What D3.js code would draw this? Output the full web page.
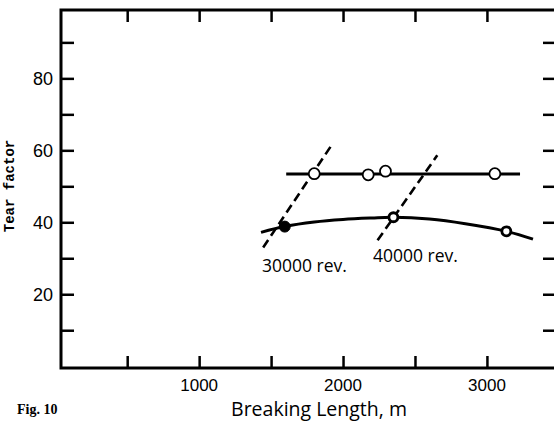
<!DOCTYPE html>
<html><head><meta charset="utf-8">
<script src="https://cdn.jsdelivr.net/npm/d3@7"></script>
<style>
html,body{margin:0;padding:0;background:#fff;}
svg{display:block;}
</style>
</head><body>
<svg id="chart" width="554" height="421"></svg>
<script>
// ---- data ----
const xTicksMajor = [1000, 2000, 3000];
const xTicksAll = [500, 1000, 1500, 2000, 2500, 3000];
const yTicksMajor = [20, 40, 60, 80];
const yTicksAll = [10, 20, 30, 40, 50, 60, 70, 80, 90];

// upper series (open circles) and its horizontal fit line
const openX = [1800, 2175, 2295, 3055];
const openY = [53.5, 53.2, 54.2, 53.5];
const upperLineX = [1605, 3230];
const upperLineY = [53.4, 53.4];

// lower series (filled / ringed markers) and its fitted curve
const lowerX = [1595, 2350, 3135];
const lowerY = [38.8, 41.4, 37.5];
const lowerMarker = ["filled", "ring", "ring"];
const curveX = [1430, 1600, 1800, 2000, 2200, 2350, 2600, 2850, 3135, 3320];
const curveY = [37.2, 38.9, 40.1, 40.8, 41.2, 41.4, 40.9, 39.6, 37.5, 35.3];

// iso-revolution dashed lines
const revLabels = ["30000 rev.", "40000 rev."];
const revX = [[1445, 1915], [2240, 2655]];
const revY = [[33.0, 61.1], [35.0, 58.6]];

// ---- drawing ----
const svg = d3.select("#chart");
const x = d3.scaleLinear().domain([40, 3480]).range([61, 556]);
const y = d3.scaleLinear().domain([-0.5, 99]).range([368, 10]);

const tickFont = "'Liberation Sans', Arial, sans-serif";

// frame via axes
const gL = svg.append("g").attr("transform", `translate(${x(40)},0)`)
  .call(d3.axisRight(y).tickValues(yTicksAll).tickSize(13).tickFormat(""));
const gR = svg.append("g").attr("transform", `translate(${x(3480)},0)`)
  .call(d3.axisLeft(y).tickValues(yTicksAll).tickSize(13).tickFormat(""));
const gB = svg.append("g").attr("transform", `translate(0,${y(-0.5)})`)
  .call(d3.axisTop(x).tickValues(xTicksAll).tickSize(12).tickFormat(""));
const gT = svg.append("g").attr("transform", `translate(0,${y(99)})`)
  .call(d3.axisBottom(x).tickValues(xTicksAll).tickSize(12).tickFormat(""));
[gL, gR, gB, gT].forEach(g => {
  g.select(".domain").remove();
  g.selectAll(".tick line").attr("stroke", "#000").attr("stroke-width", 2.5);
});
svg.append("rect")
  .attr("x", x(40)).attr("y", y(99))
  .attr("width", x(3480) - x(40)).attr("height", y(-0.5) - y(99))
  .attr("fill", "none").attr("stroke", "#000").attr("stroke-width", 3);

// tick labels
svg.append("g").selectAll("text").data(yTicksMajor).join("text")
  .attr("x", 53).attr("y", d => y(d)).attr("dy", "0.36em")
  .attr("text-anchor", "end").attr("font-family", tickFont).attr("font-size", 18)
  .text(d => d);
svg.append("g").selectAll("text").data(xTicksMajor).join("text")
  .attr("x", d => x(d)).attr("y", 391)
  .attr("text-anchor", "middle").attr("font-family", tickFont).attr("font-size", 17)
  .text(d => d);

// axis titles
svg.append("text").attr("x", 319).attr("y", 416).attr("text-anchor", "middle")
  .attr("font-family", "'Open Sans', sans-serif").attr("font-size", 19.5)
  .text("Breaking Length, m");
svg.append("text").attr("transform", "translate(14,186) rotate(-90)")
  .attr("text-anchor", "middle").attr("font-family", "'Liberation Mono', 'DejaVu Sans Mono', monospace")
  .attr("font-weight", "bold").attr("font-size", 14)
  .text("Tear factor");
svg.append("text").attr("x", 17).attr("y", 414)
  .attr("font-family", "'Liberation Serif', serif").attr("font-weight", "bold").attr("font-size", 14)
  .text("Fig. 10");

// dashed rev lines
revX.forEach((xs, i) => {
  svg.append("line")
    .attr("x1", x(xs[0])).attr("y1", y(revY[i][0]))
    .attr("x2", x(xs[1])).attr("y2", y(revY[i][1]))
    .attr("stroke", "#000").attr("stroke-width", 2.6).attr("stroke-dasharray", "9,5");
});
svg.append("text").attr("x", 262).attr("y", 272)
  .attr("font-family", "'Open Sans', sans-serif").attr("font-size", 17.5).text(revLabels[0]);
svg.append("text").attr("x", 373).attr("y", 262)
  .attr("font-family", "'Open Sans', sans-serif").attr("font-size", 17.5).text(revLabels[1]);

// upper line
const line = d3.line().x(d => x(d[0])).y(d => y(d[1]));
svg.append("path").datum(d3.zip(upperLineX, upperLineY))
  .attr("d", line).attr("fill", "none").attr("stroke", "#000").attr("stroke-width", 3);

// lower curve
const curve = d3.line().x(d => x(d[0])).y(d => y(d[1])).curve(d3.curveCatmullRom);
svg.append("path").datum(d3.zip(curveX, curveY))
  .attr("d", curve).attr("fill", "none").attr("stroke", "#000").attr("stroke-width", 3);

// open circles
svg.append("g").selectAll("circle").data(d3.zip(openX, openY)).join("circle")
  .attr("cx", d => x(d[0])).attr("cy", d => y(d[1])).attr("r", 5.5)
  .attr("fill", "#fff").attr("stroke", "#000").attr("stroke-width", 1.8);

// lower markers
svg.append("g").selectAll("circle").data(d3.zip(lowerX, lowerY, lowerMarker)).join("circle")
  .attr("cx", d => x(d[0])).attr("cy", d => y(d[1]))
  .attr("r", d => d[2] === "filled" ? 5.5 : 4.5)
  .attr("fill", d => d[2] === "filled" ? "#000" : "#fff")
  .attr("stroke", "#000").attr("stroke-width", d => d[2] === "filled" ? 1 : 2.8);
</script>
</body></html>
